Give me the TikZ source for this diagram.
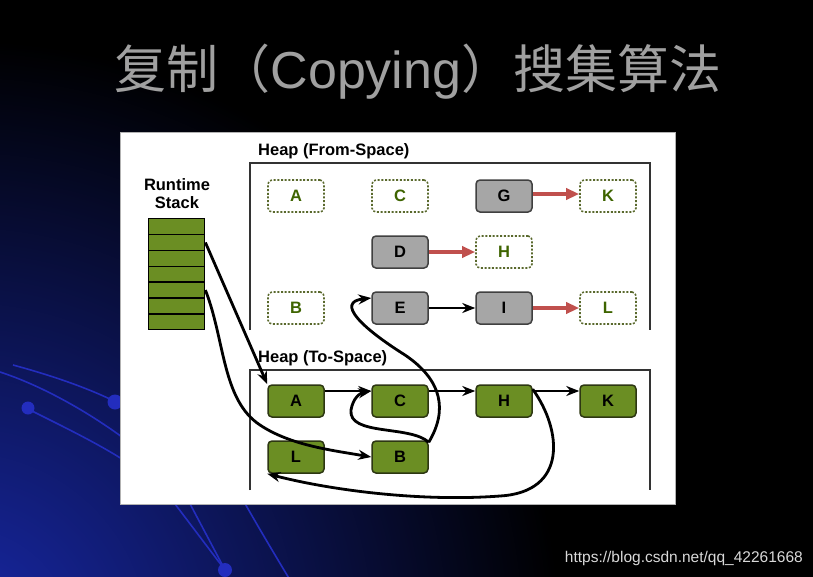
\documentclass[tikz,border=0pt]{standalone}
\usepackage{fontspec}
\setmainfont{Liberation Sans}
\newfontfamily\cjkfont{Noto Sans CJK SC}
\usetikzlibrary{arrows.meta,shapes.geometric}
\definecolor{olive}{RGB}{107,142,35}
\definecolor{olivedark}{RGB}{45,55,18}
\definecolor{olivetext}{RGB}{62,100,0}
\definecolor{dotline}{RGB}{90,105,45}
\definecolor{grayfill}{RGB}{166,166,166}
\definecolor{redarr}{RGB}{192,80,77}
\definecolor{titlegray}{RGB}{160,160,160}
\definecolor{decoblue}{RGB}{35,45,190}
\definecolor{glowblue}{RGB}{24,40,168}
\tikzset{
  livebox/.style={draw=olivedark, fill=olive, line width=1.5pt, rounded corners=4pt,
    minimum width=56pt, minimum height=32pt, font=\bfseries\fontsize{16.5}{16}\selectfont, text=black},
  deadbox/.style={draw=dotline, line width=1.6pt, dash pattern=on 2pt off 1.7pt, rounded corners=4pt,
    minimum width=56pt, minimum height=32pt, font=\bfseries\fontsize{16.5}{16}\selectfont, text=olivetext},
  graybox/.style={draw=black!75, fill=grayfill, line width=1.5pt, rounded corners=4pt,
    minimum width=56pt, minimum height=32pt, font=\bfseries\fontsize{16.5}{16}\selectfont, text=black},
  slot/.style={draw=black, fill=olive, line width=1.4pt, minimum width=56pt, minimum height=15.86pt,
    inner sep=0pt, anchor=north west},
  redline/.style={draw=redarr, line width=3.4pt, -{Triangle[length=13pt,width=11pt]}},
  blkline/.style={draw=black, line width=2.8pt, -{Stealth[length=13pt,width=10pt]}},
  heading/.style={font=\bfseries\fontsize{16.5}{17}\selectfont, anchor=base west, inner sep=0pt},
  deco/.style={draw=decoblue, line width=1.6pt},
  decodot/.style={fill=decoblue, draw=none},
}
\begin{document}
\begin{tikzpicture}[x=1pt,y=-1pt]
\useasboundingbox (0,0) rectangle (813,576);
\fill[black] (-5,-5) rectangle (818,581);
\begin{scope}
\clip (-5,-5) rectangle (818,581);
\shade[inner color=glowblue, outer color=black] (-40,640) circle (600);
\end{scope}
% decorative curves
\draw[deco] (13,365) .. controls (50,375) and (85,387) .. (112,400);
\draw[deco] (0,372) .. controls (40,385) and (85,410) .. (122,437);
\draw[deco] (30,410) .. controls (60,425) and (95,442) .. (122,459);
\draw[deco] (172,500) -- (225,570);
\draw[deco] (188,500) -- (224,568);
\draw[deco] (243,500) .. controls (260,530) and (275,555) .. (290,580);
\fill[decodot] (115,402) circle (7.5);
\fill[decodot] (28,408) circle (6.5);
\fill[decodot] (225,570) circle (7);
% title
\node[anchor=base, text=titlegray, inner sep=0pt] (title) at (418,88)
  {\cjkfont\fontsize{52}{52}\selectfont 复制（{\fontspec{Liberation Sans}Copying}）搜集算法};
% watermark
\node[anchor=base east, text=black!15, inner sep=0pt, font=\fontsize{15.5}{16}\selectfont] (wm) at (803,562)
  {https://blog.csdn.net/qq\_42261668};
% white panel
\fill[white] (120,132) rectangle (675,504);
\draw[black!30, line width=0.6pt] (120,132) rectangle (675,504);
% headings
\node[heading] (hfrom) at (258,155) {Heap (From-Space)};
\node[heading] (hto) at (258,362) {Heap (To-Space)};
\node[font=\bfseries\fontsize{16.5}{18}\selectfont, align=center, inner sep=0pt] (rs) at (177,194) {Runtime\\Stack};
% heap frames
\draw[black!80, line width=1.4pt] (250,330) -- (250,163) -- (650,163) -- (650,330);
\draw[black!80, line width=1.4pt] (250,490) -- (250,370) -- (650,370) -- (650,490);
% stack
\foreach \i in {1,...,7} {
  \node[slot] (s\i) at (148,{218+15.86*(\i-1)}) {};
}
% from-space nodes
\node[deadbox] (fA) at (296,196) {A};
\node[deadbox] (fC) at (400,196) {C};
\node[graybox] (fG) at (504,196) {G};
\node[deadbox] (fK) at (608,196) {K};
\node[graybox] (fD) at (400,252) {D};
\node[deadbox] (fH) at (504,252) {H};
\node[deadbox] (fB) at (296,308) {B};
\node[graybox] (fE) at (400,308) {E};
\node[graybox] (fI) at (504,308) {I};
\node[deadbox] (fL) at (608,308) {L};
% to-space nodes
\node[livebox] (tA) at (296,401) {A};
\node[livebox] (tC) at (400,401) {C};
\node[livebox] (tH) at (504,401) {H};
\node[livebox] (tK) at (608,401) {K};
\node[livebox] (tL) at (296,457) {L};
\node[livebox] (tB) at (400,457) {B};
% from-space arrows
\draw[redline] ([yshift=2pt]fG.east) -- ([yshift=2pt]fK.west);
\draw[redline] (fD.east) -- (fH.west);
\draw[redline] (fI.east) -- (fL.west);
\draw[blkline] (fE.east) -- (fI.west);
% to-space arrows
\draw[blkline] ([yshift=10pt]tA.east) -- ([yshift=10pt]tC.west);
\draw[blkline] ([yshift=10pt]tC.east) -- ([yshift=10pt]tH.west);
\draw[blkline] ([yshift=10pt]tH.east) -- ([yshift=10pt]tK.west);
% stack references
\draw[blkline] (s2.east) -- (tA.north west);
\draw[blkline] (s5.east) .. controls (225,340) and (222,400) .. (260,425)
  .. controls (290,445) and (330,450) .. (tB.west);
% B -> C loop
\draw[blkline] ([yshift=-2pt]tB.north east) .. controls (410,425) and (348,436) .. (351,410)
  .. controls (353,398) and (360,393) .. ([yshift=10pt]tC.west);
% B -> E
\draw[blkline] ([yshift=-2pt]tB.north east) .. controls (448,410) and (442,380) .. (405,355)
  .. controls (362,328) and (335,302) .. ([yshift=10pt]fE.west);
% H -> L
\draw[blkline] ([yshift=-5pt]tH.north east) .. controls (562,430) and (568,492) .. (500,496)
  .. controls (420,502) and (330,490) .. (tL.south west);
\end{tikzpicture}
\end{document}
